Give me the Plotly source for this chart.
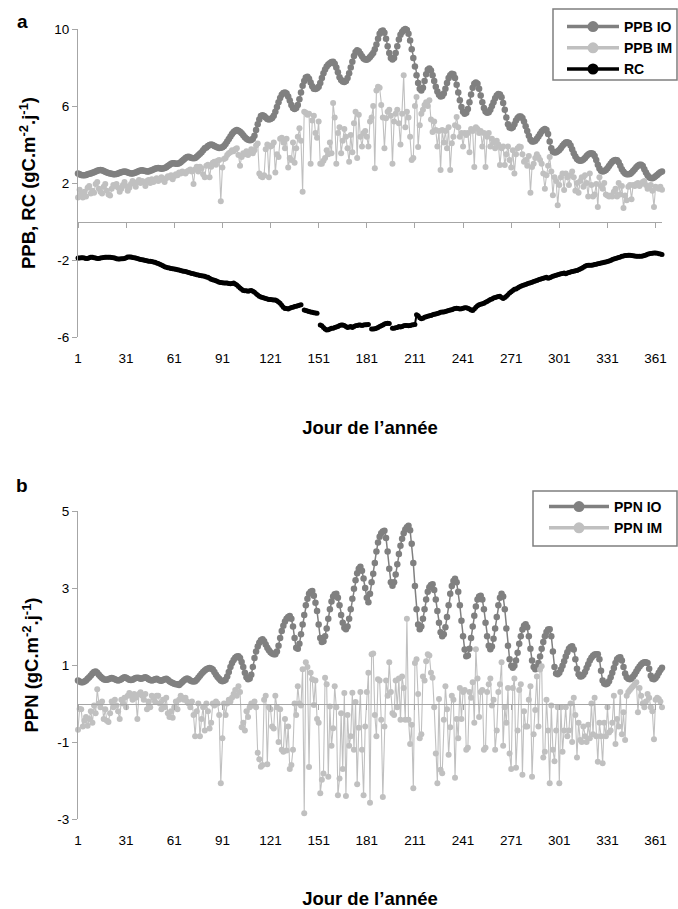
import plotly.graph_objects as go

F = "Liberation Sans, Arial, sans-serif"

days = list(range(1, 366))
x_tick_vals = [1, 31, 61, 91, 121, 151, 181, 211, 241, 271, 301, 331, 361]
x_tick_text = [str(v) for v in x_tick_vals]
ya_tick_vals = [-6, -2, 2, 6, 10]
ya_tick_text = ["-6", "-2", "2", "6", "10"]
yb_tick_vals = [-3, -1, 1, 3, 5]
yb_tick_text = ["-3", "-1", "1", "3", "5"]
ya_range = [-6, 10]
yb_range = [-3, 5]

ppb_io = [
    2.50, 2.45, 2.42, 2.40, 2.40, 2.42, 2.45, 2.48, 2.50, 2.53,
    2.56, 2.60, 2.63, 2.66, 2.68, 2.66, 2.62, 2.58, 2.55, 2.52,
    2.50, 2.48, 2.46, 2.45, 2.47, 2.50, 2.53, 2.56, 2.58, 2.60,
    2.58, 2.55, 2.52, 2.50, 2.50, 2.52, 2.55, 2.58, 2.62, 2.65,
    2.66, 2.64, 2.62, 2.60, 2.60, 2.63, 2.66, 2.70, 2.74, 2.77,
    2.78, 2.76, 2.74, 2.75, 2.78, 2.82, 2.88, 2.94, 3.00, 3.03,
    3.02, 3.00, 3.00, 3.03, 3.08, 3.15, 3.22, 3.30, 3.35, 3.36,
    3.33, 3.30, 3.28, 3.30, 3.36, 3.44, 3.52, 3.60, 3.70, 3.80,
    3.85, 3.92, 3.97, 4.00, 3.97, 3.92, 3.88, 3.84, 3.82, 3.83,
    3.86, 3.92, 4.02, 4.15, 4.28, 4.42, 4.55, 4.65, 4.72, 4.75,
    4.72, 4.66, 4.58, 4.48, 4.38, 4.30, 4.25, 4.22, 4.23, 4.30,
    4.45, 4.75, 5.05, 5.30, 5.48, 5.52, 5.48, 5.40, 5.33, 5.30,
    5.32, 5.38, 5.50, 5.70, 5.95, 6.20, 6.42, 6.58, 6.67, 6.70,
    6.65, 6.50, 6.28, 6.05, 5.90, 5.85, 5.90, 6.05, 6.35, 6.70,
    7.05, 7.30, 7.48, 7.52, 7.42, 7.22, 7.02, 6.90, 6.88, 6.92,
    7.00, 7.20, 7.45, 7.70, 7.90, 8.05, 8.15, 8.22, 8.28, 8.30,
    8.20, 8.00, 7.75, 7.50, 7.35, 7.27, 7.25, 7.30, 7.45, 7.70,
    8.00, 8.30, 8.60, 8.80, 8.90, 8.85, 8.72, 8.58, 8.47, 8.42,
    8.40, 8.45, 8.55, 8.65, 8.75, 8.95, 9.20, 9.50, 9.75, 9.88,
    9.92, 9.80, 9.50, 9.10, 8.75, 8.50, 8.42, 8.50, 8.75, 9.10,
    9.45, 9.70, 9.85, 9.95, 10.00, 9.95, 9.75, 9.40, 8.95, 8.50,
    8.05, 7.60, 7.20, 6.90, 6.80, 6.95, 7.30, 7.65, 7.88, 7.95,
    7.85, 7.60, 7.30, 7.00, 6.75, 6.58, 6.50, 6.52, 6.65, 6.90,
    7.20, 7.45, 7.60, 7.68, 7.65, 7.45, 7.10, 6.70, 6.30, 5.95,
    5.70, 5.60, 5.65, 5.85, 6.20, 6.60, 6.95, 7.15, 7.22, 7.15,
    6.90, 6.55, 6.20, 5.90, 5.72, 5.65, 5.68, 5.80, 6.00, 6.20,
    6.40, 6.55, 6.62, 6.60, 6.45, 6.15, 5.80, 5.40, 5.05, 4.88,
    4.85, 4.90, 5.05, 5.25, 5.38, 5.45, 5.45, 5.38, 5.20, 4.95,
    4.70, 4.45, 4.25, 4.15, 4.15, 4.20, 4.30, 4.42, 4.55, 4.68,
    4.75, 4.80, 4.75, 4.55, 4.15, 3.80, 3.62, 3.58, 3.60, 3.65,
    3.72, 3.82, 3.93, 4.03, 4.10, 4.12, 4.08, 3.95, 3.75, 3.55,
    3.38, 3.25, 3.18, 3.15, 3.17, 3.22, 3.30, 3.40, 3.48, 3.53,
    3.55, 3.52, 3.40, 3.20, 2.95, 2.75, 2.63, 2.60, 2.62, 2.68,
    2.77, 2.88, 3.00, 3.10, 3.17, 3.20, 3.18, 3.08, 2.90, 2.72,
    2.58, 2.50, 2.46, 2.45, 2.47, 2.53, 2.62, 2.72, 2.82, 2.90,
    2.95, 2.95, 2.88, 2.72, 2.55, 2.40, 2.30, 2.26, 2.25, 2.28,
    2.35, 2.42, 2.50, 2.56, 2.60,
]

ppb_im = [
    1.25, 1.65, 1.45, 1.25, 1.55, 1.30, 1.75, 1.85, 1.45, 1.60,
    1.50, 1.95, 2.05, 1.70, 1.55, 1.45, 1.80, 1.95, 1.60, 1.40,
    1.35, 1.70, 1.90, 1.85, 1.95, 1.75, 1.55, 1.70, 1.90, 2.05,
    1.85, 1.60, 1.75, 1.95, 2.10, 2.00, 1.80, 2.05, 2.15, 2.00,
    2.10, 2.05, 1.85, 2.10, 2.15, 2.00, 2.20, 2.05, 2.15, 2.25,
    2.10, 2.20, 2.30, 2.15, 2.05, 2.25, 2.35, 2.30, 2.40, 2.20,
    2.35, 2.45, 2.40, 2.55, 2.50, 2.60, 2.55, 2.50, 2.60, 2.65,
    2.70, 2.60, 1.95, 2.70, 2.85, 2.60, 2.85, 2.75, 2.45, 2.30,
    2.90, 2.95, 2.30, 2.85, 3.05, 3.10, 2.95, 3.15, 3.20, 1.05,
    2.80, 3.25, 3.30, 3.45, 3.55, 3.60, 3.70, 3.65, 3.75, 3.80,
    3.45, 2.90, 3.35, 3.55, 3.50, 3.65, 3.45, 3.60, 3.75, 3.55,
    3.70, 3.95, 4.05, 2.50, 2.35, 2.30, 2.40, 3.75, 4.00, 2.30,
    3.90, 3.95, 4.10, 2.55, 3.50, 3.35, 4.30, 4.35, 4.10, 3.80,
    4.30, 2.80, 3.30, 3.20, 4.10, 3.05, 3.80, 4.40, 4.85, 4.20,
    1.55, 5.70, 5.65, 5.55, 5.60, 3.00, 5.25, 5.50, 4.60, 4.35,
    5.20, 3.00, 3.00, 3.15, 3.30, 3.70, 3.50, 4.10, 3.55, 6.15,
    5.40, 3.00, 4.60, 4.90, 3.55, 4.20, 4.80, 4.40, 3.80, 3.10,
    4.50, 3.60, 5.10, 5.70, 3.30, 5.55, 4.40, 3.90, 4.60, 4.70,
    4.40, 3.90, 5.20, 5.40, 6.00, 2.77, 6.80, 7.00, 6.95, 6.05,
    5.40, 3.80, 5.37, 5.70, 5.80, 5.50, 3.00, 5.20, 5.60, 5.80,
    5.10, 4.00, 5.60, 7.60, 4.90, 5.70, 5.40, 4.40, 3.20, 3.30,
    6.00, 6.47, 3.87, 5.00, 5.60, 5.80, 6.05, 6.20, 6.00, 6.30,
    5.30, 4.65, 5.20, 4.75, 3.90, 4.70, 2.67, 4.75, 4.10, 4.70,
    3.80, 4.90, 2.67, 4.07, 4.40, 5.00, 5.43, 4.90, 4.40, 4.60,
    3.90, 4.60, 4.50, 4.60, 3.60, 4.80, 4.70, 2.83, 4.90, 4.80,
    4.60, 4.70, 3.90, 4.60, 2.83, 4.40, 4.60, 3.90, 4.30, 4.10,
    3.80, 4.20, 4.00, 2.93, 3.80, 3.90, 2.93, 3.50, 3.90, 3.20,
    2.80, 3.70, 2.50, 3.50, 3.80, 3.90, 3.87, 3.50, 3.10, 3.20,
    2.90, 3.40, 1.50, 2.83, 3.00, 3.30, 3.50, 3.35, 3.20, 3.00,
    2.50, 1.70, 2.40, 2.90, 3.35, 2.60, 1.37, 2.30, 2.10, 0.85,
    1.90, 2.30, 2.50, 1.63, 2.50, 2.30, 1.90, 2.40, 2.60, 2.30,
    1.60, 2.00, 1.50, 2.10, 2.30, 1.80, 2.40, 2.00, 1.30, 2.50,
    1.90, 1.30, 1.40, 1.95, 0.75, 2.30, 1.85, 1.70, 2.00, 1.40,
    1.35, 1.30, 1.35, 1.30, 1.55, 1.70, 1.30, 2.00, 1.40, 1.85,
    0.70, 1.35, 1.10, 1.80, 1.90, 1.15, 1.90, 1.85, 1.95, 2.00,
    1.85, 1.95, 2.05, 2.10, 1.90, 1.70, 1.75, 1.90, 1.60, 0.75,
    1.80, 1.75, 1.70, 1.80, 1.65,
]

rc = [
    -1.90, -1.90, -1.88, -1.88, -1.90, -1.92, -1.92, -1.88, -1.86, -1.86,
    -1.88, -1.90, -1.92, -1.92, -1.90, -1.88, -1.87, -1.86, -1.86, -1.86,
    -1.86, -1.87, -1.88, -1.90, -1.93, -1.95, -1.95, -1.94, -1.93, -1.92,
    -1.88, -1.85, -1.84, -1.85, -1.87, -1.88, -1.89, -1.92, -1.95, -1.97,
    -1.99, -2.00, -2.02, -2.04, -2.06, -2.07, -2.08, -2.10, -2.12, -2.15,
    -2.18, -2.22, -2.26, -2.30, -2.35, -2.38, -2.40, -2.42, -2.44, -2.45,
    -2.47, -2.48, -2.50, -2.52, -2.55, -2.57, -2.58, -2.60, -2.62, -2.65,
    -2.67, -2.70, -2.72, -2.74, -2.76, -2.78, -2.80, -2.82, -2.83, -2.85,
    -2.88, -2.90, -2.95, -3.00, -3.03, -3.05, -3.08, -3.12, -3.15, -3.17,
    -3.18, -3.19, -3.20, -3.20, -3.22, -3.24, -3.22, -3.20, -3.25, -3.30,
    -3.38, -3.45, -3.52, -3.58, -3.60, -3.60, -3.62, -3.60, -3.58, -3.62,
    -3.68, -3.75, -3.82, -3.88, -3.92, -3.95, -3.98, -4.00, -4.02, -4.05,
    -4.05, -4.06, -4.08, -4.08, -4.12, -4.18, -4.25, -4.35, -4.45, -4.52,
    -4.52, -4.55, -4.50, -4.47, -4.45, -4.42, -4.40, -4.38, -4.35, -4.33,
    None, -4.60, -4.62, -4.65, -4.68, -4.70, -4.72, -4.74, -4.75, -4.76,
    None, -5.38, -5.42, -5.50, -5.58, -5.64, -5.62, -5.58, -5.55, -5.55,
    -5.50, -5.48, -5.45, -5.40, -5.38, -5.38, -5.40, -5.45, -5.50, -5.48,
    -5.45, -5.50, -5.45, -5.42, -5.40, -5.38, -5.38, -5.40, -5.38, -5.36,
    -5.36, -5.35, None, -5.58, -5.58, -5.57, -5.55, -5.50, -5.45, -5.42,
    -5.38, -5.33, -5.30, -5.28, -5.30, None, -5.55, -5.55, -5.52, -5.50,
    -5.45, -5.48, -5.45, -5.42, -5.40, -5.40, -5.42, -5.40, -5.38, -5.36,
    -5.35, -4.85, -4.90, -5.00, -5.05, -5.02, -4.98, -4.95, -4.92, -4.90,
    -4.88, -4.85, -4.82, -4.80, -4.78, -4.75, -4.72, -4.70, -4.70, -4.68,
    -4.65, -4.62, -4.60, -4.58, -4.55, -4.52, -4.50, -4.52, -4.55, -4.53,
    -4.50, -4.48, -4.48, -4.50, -4.55, -4.60, -4.62, -4.55, -4.45, -4.38,
    -4.33, -4.30, -4.27, -4.25, -4.20, -4.15, -4.10, -4.05, -4.02, -3.98,
    -3.95, -3.92, -3.90, -3.88, -3.95, -4.00, -3.95, -3.88, -3.80, -3.72,
    -3.65, -3.58, -3.52, -3.50, -3.45, -3.40, -3.37, -3.33, -3.30, -3.27,
    -3.24, -3.21, -3.18, -3.15, -3.12, -3.09, -3.06, -3.03, -3.00, -2.97,
    -2.95, -2.92, -2.90, -2.95, -2.92, -2.88, -2.85, -2.82, -2.79, -2.76,
    -2.74, -2.72, -2.70, -2.68, -2.72, -2.68, -2.65, -2.62, -2.60, -2.58,
    -2.56, -2.54, -2.50, -2.47, -2.43, -2.38, -2.33, -2.28, -2.27, -2.27,
    -2.27, -2.26, -2.24, -2.22, -2.20, -2.18, -2.16, -2.14, -2.12, -2.10,
    -2.08, -2.05, -2.02, -1.98, -1.95, -1.92, -1.90, -1.87, -1.84, -1.81,
    -1.79, -1.77, -1.76, -1.75, -1.75, -1.76, -1.78, -1.79, -1.80, -1.80,
    -1.80, -1.80, -1.79, -1.77, -1.74, -1.70, -1.68, -1.66, -1.65, -1.64,
    -1.63, -1.65, -1.67, -1.69, -1.71,
]

ppn_io = [
    0.60, 0.57, 0.55, 0.55, 0.57, 0.60, 0.64, 0.68, 0.73, 0.78,
    0.82, 0.83, 0.80, 0.75, 0.70, 0.66, 0.63, 0.62, 0.62, 0.63,
    0.65, 0.66, 0.65, 0.63, 0.61, 0.60, 0.61, 0.63, 0.66, 0.68,
    0.67, 0.64, 0.62, 0.61, 0.62, 0.64, 0.66, 0.67, 0.66, 0.64,
    0.65, 0.67, 0.68, 0.66, 0.63, 0.61, 0.60, 0.61, 0.63, 0.64,
    0.62, 0.60, 0.59, 0.61, 0.63, 0.64, 0.62, 0.58, 0.55, 0.53,
    0.51, 0.50, 0.50, 0.48, 0.52, 0.56, 0.60, 0.63, 0.65, 0.63,
    0.60, 0.58, 0.57, 0.58, 0.62, 0.67, 0.72, 0.77, 0.82, 0.86,
    0.89, 0.91, 0.92, 0.91, 0.88, 0.82, 0.75, 0.69, 0.64, 0.60,
    0.58, 0.59, 0.62, 0.70, 0.82, 0.95, 1.05, 1.13, 1.19, 1.22,
    1.23, 1.18, 1.08, 0.95, 0.80, 0.68, 0.63, 0.65, 0.75, 0.95,
    1.18, 1.35, 1.48, 1.58, 1.64, 1.67, 1.62, 1.53, 1.45, 1.38,
    1.33, 1.30, 1.28, 1.28, 1.35, 1.50, 1.70, 1.88, 2.02, 2.13,
    2.20, 2.25, 2.27, 2.20, 2.00, 1.70, 1.45, 1.42, 1.55, 1.80,
    2.05, 2.30, 2.55, 2.72, 2.85, 2.90, 2.92, 2.80, 2.62, 2.40,
    2.05, 1.70, 1.60, 1.62, 1.75, 1.95, 2.20, 2.45, 2.65, 2.78,
    2.84, 2.85, 2.75, 2.55, 2.30, 2.10, 1.97, 1.93, 2.00, 2.20,
    2.45, 2.72, 2.98, 3.20, 3.38, 3.50, 3.55, 3.45, 3.25, 3.00,
    2.75, 2.63, 2.85, 3.15, 3.37, 3.65, 3.95, 4.18, 4.33, 4.42,
    4.47, 4.49, 4.30, 3.95, 3.50, 3.15, 3.06, 3.15, 3.35, 3.62,
    3.88, 4.10, 4.28, 4.42, 4.52, 4.58, 4.62, 4.50, 4.15, 3.65,
    3.05, 2.45, 2.05, 1.93, 2.00, 2.20, 2.45, 2.70, 2.90, 3.02,
    3.08, 3.10, 2.95, 2.70, 2.40, 2.10, 1.85, 1.75, 1.80, 1.98,
    2.25, 2.55, 2.85, 3.05, 3.18, 3.24, 3.15, 2.90, 2.55, 2.15,
    1.75, 1.40, 1.23, 1.25, 1.42, 1.70, 2.00, 2.28, 2.52, 2.70,
    2.78, 2.80, 2.70, 2.45, 2.10, 1.75, 1.50, 1.41, 1.48, 1.68,
    1.95, 2.25, 2.55, 2.75, 2.85, 2.78, 2.45, 1.95, 1.50, 1.15,
    0.98, 0.93, 0.98, 1.12, 1.32, 1.55, 1.75, 1.92, 2.02, 2.06,
    1.98, 1.75, 1.42, 1.12, 0.95, 0.89, 0.92, 1.05, 1.22, 1.42,
    1.60, 1.75, 1.86, 1.92, 1.93, 1.75, 1.35, 0.95, 0.78, 0.76,
    0.80, 0.88, 0.98, 1.10, 1.22, 1.33, 1.42, 1.47, 1.49, 1.40,
    1.15, 0.90, 0.76, 0.70, 0.71, 0.75, 0.82, 0.92, 1.02, 1.12,
    1.19, 1.24, 1.27, 1.28, 1.28, 1.15, 0.85, 0.60, 0.52, 0.50,
    0.52, 0.58, 0.68, 0.80, 0.92, 1.05, 1.15, 1.19, 1.20, 1.12,
    0.95, 0.78, 0.68, 0.64, 0.63, 0.65, 0.70, 0.76, 0.83, 0.90,
    0.96, 1.01, 1.05, 1.07, 1.07, 1.05, 0.90, 0.72, 0.64, 0.63,
    0.66, 0.72, 0.80, 0.87, 0.93,
]

ppn_im = [
    -0.68, -0.14, -0.15, -0.60, -0.45, -0.35, -0.58, -0.40, -0.20, -0.50,
    -0.05, -0.25, 0.37, 0.00, -0.10, 0.05, -0.40, -0.15, -0.45, -0.48,
    -0.25, 0.05, -0.10, 0.10, -0.05, -0.20, -0.40, 0.10, 0.00, 0.15,
    -0.10, 0.20, 0.27, 0.20, 0.10, 0.25, 0.15, -0.40, 0.25, 0.29,
    0.20, 0.10, 0.25, -0.15, 0.05, -0.10, 0.20, 0.15, 0.05, 0.20,
    0.20, 0.00, -0.15, 0.10, -0.10, 0.15, -0.25, -0.35, -0.20, -0.37,
    -0.10, 0.05, -0.15, 0.10, 0.20, 0.15, 0.10, 0.15, 0.05, 0.00,
    -0.10, 0.05, -0.30, -0.85, -0.20, 0.00, -0.85, -0.40, -0.10, -0.70,
    0.00, -0.20, -0.65, -0.50, 0.00, -0.05, 0.05, 0.00, -0.30, -2.07,
    -0.90, 0.00, -0.30, 0.00, 0.10, 0.05, 0.15, 0.25, 0.35, 0.20,
    0.45, 0.30, -0.62, -0.50, -0.70, -0.20, -0.35, -0.10, 0.00, -0.05,
    0.05, -0.10, -1.28, -1.45, -1.64, -1.60, 0.10, 0.20, -1.58, -0.10,
    -0.15, -0.60, -0.65, 0.20, -0.10, -1.00, -0.15, -1.20, -1.25, -0.40,
    -1.22, -0.60, -1.70, -1.60, -1.20, 0.00, -0.30, 0.45, 0.00, -0.05,
    0.89, -2.85, 1.07, 0.95, -1.65, 0.80, 0.63, -0.04, 0.60, -0.40,
    -0.50, -2.33, -1.98, -1.82, 0.67, 0.50, -1.90, -0.08, -1.10, -0.64,
    0.45, -0.10, -2.38, -1.95, -0.25, -1.70, 0.27, -2.40, -0.30, -1.10,
    -0.85, 0.28, -1.20, 0.04, -2.10, -0.63, 0.30, -1.20, -2.38, -0.60,
    0.30, 0.80, -2.58, 1.28, 1.30, -0.30, -0.85, 0.63, 0.60, -0.42,
    -2.43, -0.60, 0.60, 0.20, 1.07, 0.30, -0.25, -0.30, 0.60, -0.10,
    0.65, -0.42, 0.70, 0.40, -0.42, 2.20, -0.42, -1.05, -0.55, -2.20,
    1.05, 1.15, 0.25, -0.90, -0.80, 0.70, 0.60, 1.10, 1.28, 1.25,
    0.80, 0.67, -0.10, -1.30, -2.07, 0.12, -1.72, -1.81, -0.42, 0.45,
    -0.15, -1.33, -0.62, 0.20, 0.10, -1.93, -0.40, -0.90, 0.40, -0.40,
    0.30, 0.35, -1.20, -1.15, 0.30, 0.15, 0.55, -0.50, 1.41, 0.65,
    -0.35, 0.30, 0.35, -1.20, -1.15, 0.30, 0.50, 0.65, -0.05, 0.10,
    -1.20, -0.70, 0.30, 0.50, 1.07, -1.10, -0.10, -0.50, 0.40, -1.30,
    -1.70, 0.40, 0.65, -1.67, -0.70, 0.35, 0.50, -1.85, -0.20, -0.60,
    -0.60, 0.10, 0.45, -1.90, -0.80, -0.17, 0.70, -0.60, 0.88, 0.97,
    -1.40, -1.25, 0.10, -0.70, -2.07, -0.05, -1.20, -1.50, -0.70, -0.10,
    -2.07, -0.10, -1.25, -0.70, -0.10, -0.85, -0.70, 0.00, -1.00, 0.15,
    -0.30, -1.40, -0.50, -0.95, -1.00, -0.60, -0.85, -1.00, -0.55, -0.90,
    0.00, -0.80, 0.15, -0.85, -1.51, -0.50, -0.85, -1.55, -0.50, -0.85,
    -0.10, -0.75, -0.70, -0.50, 0.20, -1.05, -0.40, -0.60, 0.30, -0.80,
    -0.23, -0.95, 0.20, 0.30, 0.35, 0.40, 0.45, 0.50, 0.55, -0.23,
    0.40, 0.20, 0.00, -0.10, 0.05, 0.25, 0.15, -0.10, -0.20, -0.93,
    0.10, 0.15, 0.12, 0.05, -0.10,
]

for name, s in [("ppb_io", ppb_io), ("ppb_im", ppb_im), ("rc", rc),
                ("ppn_io", ppn_io), ("ppn_im", ppn_im)]:
    assert len(s) == 365, (name, len(s))

DARK = "#808080"
LIGHT = "#c0c0c0"
BLACK = "#000000"
AXIS = "#a6a6a6"
FRAME = "#7f7f7f"

# layout geometry (plot area: x 78..662, y 29..819 in pixels)
PX_L, PX_W, PX_B, PX_H = 78, 584, 819, 790


def px(x):
    return (x - PX_L) / PX_W


def py(y):
    return (PX_B - y) / PX_H


A_BOT = py(337)
B_TOP = py(511)
a_zero = A_BOT + (0 - ya_range[0]) / (ya_range[1] - ya_range[0]) * (1 - A_BOT)
b_zero = (0 - yb_range[0]) / (yb_range[1] - yb_range[0]) * B_TOP

fig = go.Figure()


def series(y, color, xa, ya, msize, lw):
    return go.Scatter(
        x=days, y=y, mode="lines+markers", xaxis=xa, yaxis=ya,
        line=dict(color=color, width=lw), marker=dict(color=color, size=msize),
        showlegend=False, cliponaxis=False, connectgaps=False, hoverinfo="skip",
    )


def legend_entry(name, color, legend):
    return go.Scatter(
        x=[None], y=[None], mode="lines+markers", name=name, legend=legend,
        line=dict(color=color, width=3.5), marker=dict(color=color, size=11),
        showlegend=True, xaxis="x", yaxis="y",
    )


fig.add_trace(series(ppb_io, DARK, "x", "y", 6.5, 1.5))
fig.add_trace(series(ppb_im, LIGHT, "x", "y", 6, 1.1))
fig.add_trace(series(rc, BLACK, "x", "y", 5, 2))
fig.add_trace(series(ppn_io, DARK, "x2", "y2", 6.5, 1.5))
fig.add_trace(series(ppn_im, LIGHT, "x2", "y2", 6, 1.1))

# helpers carrying the axis lines drawn at y = 0
fig.add_trace(go.Scatter(x=[None], y=[None], xaxis="x3", yaxis="y", showlegend=False, hoverinfo="skip"))
fig.add_trace(go.Scatter(x=[None], y=[None], xaxis="x4", yaxis="y2", showlegend=False, hoverinfo="skip"))

fig.add_trace(legend_entry("PPB IO", DARK, "legend"))
fig.add_trace(legend_entry("PPB IM", LIGHT, "legend"))
fig.add_trace(legend_entry("RC", BLACK, "legend"))
fig.add_trace(legend_entry("PPN IO", DARK, "legend2"))
fig.add_trace(legend_entry("PPN IM", LIGHT, "legend2"))

tickfont = dict(family=F, size=13.5, color="black")
titlefont = dict(family=F, size=18.5, color="black", weight="bold")


def label_axis(domain_anchor, standoff):
    return dict(
        domain=[0, 1], anchor=domain_anchor, range=[1, 365],
        tickmode="array", tickvals=x_tick_vals, ticktext=x_tick_text,
        showline=False, ticks="", showgrid=False, zeroline=False,
        tickfont=tickfont, ticklabelstandoff=11,
        title=dict(text="Jour de l’année", font=titlefont, standoff=standoff),
    )


def zero_axis(over, pos):
    return dict(
        overlaying=over, anchor="free", position=pos, range=[1, 365],
        tickmode="array", tickvals=x_tick_vals, showticklabels=False,
        showline=True, linecolor=AXIS, linewidth=1, ticks="outside",
        ticklen=5, tickcolor=AXIS, showgrid=False, zeroline=False,
    )


def value_axis(domain, anchor, rng, vals, text, title):
    return dict(
        domain=domain, anchor=anchor, range=rng, tickmode="array",
        tickvals=vals, ticktext=text, showline=True, linecolor=AXIS,
        linewidth=1, ticks="outside", ticklen=5, tickcolor=AXIS,
        showgrid=False, zeroline=False, tickfont=tickfont,
        title=dict(text=title, font=titlefont, standoff=13),
    )


legend_style = dict(
    xanchor="left", yanchor="top", bgcolor="rgba(0,0,0,0)", borderwidth=0,
    font=dict(family=F, size=14, color="black", weight="bold"),
)

frame = dict(type="rect", xref="paper", yref="paper", layer="below",
             line=dict(color=FRAME, width=1.5), fillcolor="white")

fig.update_layout(
    width=678, height=909,
    margin=dict(l=PX_L, r=678 - PX_L - PX_W, t=PX_B - PX_H, b=909 - PX_B, autoexpand=False),
    paper_bgcolor="white", plot_bgcolor="white",
    font=dict(family=F, color="black"),
    xaxis=label_axis("y", 56),
    xaxis2=label_axis("y2", 51),
    xaxis3=zero_axis("x", a_zero),
    xaxis4=zero_axis("x2", b_zero),
    yaxis=value_axis([A_BOT, 1], "x", ya_range, ya_tick_vals, ya_tick_text,
                     "PPB, RC (gC.m<sup>-2</sup>.j<sup>-1</sup>)"),
    yaxis2=value_axis([0, B_TOP], "x2", yb_range, yb_tick_vals, yb_tick_text,
                      "PPN (gC.m<sup>-2</sup>.j<sup>-1</sup>)"),
    legend=dict(x=px(562), y=py(11), itemwidth=52, **legend_style),
    legend2=dict(x=px(544), y=py(491), itemwidth=60, **legend_style),
    shapes=[
        dict(x0=px(553), x1=px(677), y0=py(80), y1=py(9), **frame),
        dict(x0=px(533), x1=px(677), y0=py(546), y1=py(491), **frame),
    ],
    annotations=[
        dict(text="<b>a</b>", x=px(22), y=py(22), xref="paper", yref="paper",
             showarrow=False, font=dict(family=F, size=19, color="black"), xanchor="center", yanchor="middle"),
        dict(text="<b>b</b>", x=px(22), y=py(485), xref="paper", yref="paper",
             showarrow=False, font=dict(family=F, size=19, color="black"), xanchor="center", yanchor="middle"),
    ],
)

fig.write_html("out.html")
